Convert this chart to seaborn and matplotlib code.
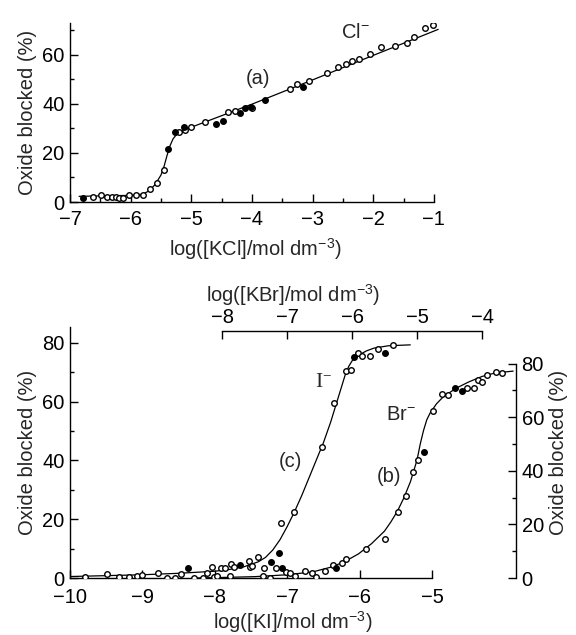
import matplotlib
matplotlib.use("Agg")
import matplotlib.pyplot as plt
import seaborn as sns

# (a) Cl- : log[KCl] vs oxide blocked (%)
cl_open_x = [-6.62, -6.49, -6.39, -6.30, -6.24, -6.19, -6.12, -6.02, -5.91, -5.79, -5.68, -5.56,
             -5.45, -5.20, -5.10, -5.00, -4.77, -4.39, -4.28, -4.00, -3.38, -3.26, -3.06, -2.76,
             -2.58, -2.45, -2.35, -2.24, -2.05, -1.87, -1.64, -1.44, -1.33, -1.15, -1.02]
cl_open_y = [2.2, 2.9, 2.2, 2.2, 1.9, 1.5, 1.8, 2.9, 2.9, 2.9, 5.2, 7.6,
             13.1, 28.4, 29.5, 30.5, 32.5, 36.9, 37.3, 38.3, 46.0, 48.0, 49.5, 52.8,
             55.0, 56.3, 57.3, 58.4, 60.3, 63.4, 63.8, 65.0, 67.2, 70.9, 72.2]
cl_fill_x = [-6.79, -5.38, -5.27, -5.12, -4.60, -4.48, -4.19, -4.12, -4.02, -3.79, -3.16]
cl_fill_y = [1.5, 21.6, 28.4, 30.7, 31.8, 33.0, 36.2, 38.5, 38.9, 41.6, 46.8]
cl_fit_x = [-6.85, -6.5, -6.0, -5.8, -5.7, -5.6, -5.5, -5.45, -5.4, -5.35, -5.3, -5.25,
            -5.2, -5.1, -5.0, -4.0, -3.0, -2.0, -1.0, -0.93]
cl_fit_y = [2.3, 2.5, 2.7, 3.2, 4.5, 7.0, 11.0, 14.5, 19.0, 23.0, 25.8, 27.3,
            28.3, 29.6, 30.5, 39.9, 49.8, 59.8, 69.7, 70.4]

# (c) I- : log[KI]
i_open_x = [-9.79, -9.49, -9.32, -9.19, -9.07, -9.00, -8.78, -8.66, -8.55, -8.47, -8.11, -8.04,
            -7.91, -7.86, -7.78, -7.74, -7.53, -7.51, -7.48, -7.40, -7.32, -7.15, -7.08, -6.90,
            -6.52, -6.35, -6.19, -6.12, -6.02, -5.97, -5.86, -5.74, -5.54]
i_open_y = [0.3, 1.3, 0.4, 0.2, 0.7, 1.0, 1.6, 0.1, 0.1, 1.4, 1.6, 3.8,
            3.3, 3.3, 4.8, 3.9, 5.9, 3.8, 4.0, 7.0, 3.3, 3.3, 18.6, 22.6,
            44.5, 59.6, 70.5, 70.7, 76.4, 75.6, 75.6, 77.9, 79.3]
i_fill_x = [-8.37, -7.65, -7.23, -7.12, -6.08, -5.65]
i_fill_y = [3.3, 4.4, 5.5, 8.4, 75.3, 76.4]
i_fit_x = [-10.0, -9.5, -9.0, -8.5, -8.0, -7.8, -7.6, -7.4, -7.3, -7.2, -7.1, -7.0, -6.9,
           -6.8, -6.7, -6.6, -6.5, -6.4, -6.3, -6.2, -6.15, -6.1, -6.0, -5.9, -5.8, -5.6, -5.3]
i_fit_y = [0.5, 0.8, 1.1, 1.6, 2.3, 2.9, 3.8, 5.5, 7.0, 9.5, 13.0, 17.5, 22.5,
           28.0, 34.0, 40.0, 46.0, 53.0, 61.0, 69.0, 72.0, 74.0, 76.0, 77.3, 78.2, 79.0, 79.3]

# (b) Br- : log[KBr] (top / right axes)
br_open_x = [-8.43, -8.29, -8.13, -8.07, -7.87, -7.37, -7.26, -7.02, -6.95, -6.88, -6.72, -6.62,
             -6.55, -6.42, -6.30, -6.16, -6.10, -5.79, -5.50, -5.30, -5.17, -5.06, -4.98, -4.76,
             -4.62, -4.52, -4.23, -4.12, -4.06, -4.00, -3.93, -3.79, -3.70]
br_open_y = [0.1, 0.0, 0.3, 0.7, 0.7, 0.7, 0.1, 2.4, 2.0, 0.75, 2.7, 1.7,
             0.5, 2.7, 4.9, 5.5, 7.0, 10.7, 14.6, 24.7, 30.6, 39.7, 44.0, 62.4,
             68.7, 68.3, 71.0, 71.0, 73.9, 73.3, 75.7, 77.0, 76.4]
br_fill_x = [-7.07, -6.24, -4.89, -4.42, -4.31]
br_fill_y = [3.6, 3.6, 47.1, 70.8, 69.8]
br_fit_x = [-8.4, -8.0, -7.5, -7.0, -6.6, -6.3, -6.1, -5.9, -5.7, -5.5, -5.4, -5.3, -5.2,
            -5.1, -5.0, -4.95, -4.9, -4.85, -4.8, -4.7, -4.6, -4.4, -4.2, -4.0, -3.8, -3.52]
br_fit_y = [0.0, 0.2, 0.5, 1.2, 2.3, 4.2, 6.3, 9.0, 12.8, 17.5, 21.0, 25.0, 30.0,
            36.0, 44.0, 50.0, 55.0, 59.0, 61.5, 65.0, 67.5, 70.8, 73.2, 75.2, 76.5, 77.2]

sns.set_theme(style="ticks")
plt.rcParams["font.family"] = ["Liberation Sans", "DejaVu Sans"]
plt.rcParams["mathtext.fontset"] = "custom"
plt.rcParams["mathtext.rm"] = "Liberation Sans"
plt.rcParams["mathtext.default"] = "regular"

W, H = 576, 635
fig = plt.figure(figsize=(W / 100, H / 100), dpi=100)
fig.patch.set_facecolor("white")

LW = 0.9
TICK_FS = 14.5
LAB_FS = 14.5


def draw(ax, fx, fy, ox, oy, px, py):
    sns.lineplot(x=fx, y=fy, ax=ax, color="black", lw=LW, sort=False, estimator=None, zorder=2)
    sns.scatterplot(x=ox, y=oy, ax=ax, s=16, facecolor="white", edgecolor="black",
                    linewidth=1.0, zorder=3)
    sns.scatterplot(x=px, y=py, ax=ax, s=16, color="black", edgecolor="black",
                    linewidth=1.0, zorder=3)


def style(ax):
    ax.set_facecolor("none")
    for s in ax.spines.values():
        s.set_linewidth(1.0)
        s.set_color("black")
    ax.tick_params(which="both", direction="in", colors="black", labelsize=TICK_FS, width=1.0)
    ax.tick_params(which="major", length=5.5, pad=4)
    ax.tick_params(which="minor", length=3)


# ---- top panel: Cl-
ax1 = fig.add_axes([70 / W, 1 - 202 / H, 370 / W, 179 / H])
draw(ax1, cl_fit_x, cl_fit_y, cl_open_x, cl_open_y, cl_fill_x, cl_fill_y)
style(ax1)
ax1.set_xlim(-7, -0.9)
ax1.set_ylim(0, 73)
ax1.spines["top"].set_visible(False)
ax1.spines["right"].set_visible(False)
ax1.spines["bottom"].set_bounds(-7, -1)
ax1.set_xticks(range(-7, 0))
ax1.set_xticks([-6.5, -5.5, -4.5, -3.5, -2.5, -1.5], minor=True)
ax1.set_yticks([0, 20, 40, 60])
ax1.set_yticks([10, 30, 50, 70], minor=True)
ax1.tick_params(axis="x", pad=6)
ax1.set_xlabel("log([KCl]/mol dm$^{-3}$)", fontsize=LAB_FS, labelpad=5)
ax1.set_ylabel("Oxide blocked (%)", fontsize=LAB_FS, labelpad=4)
ax1.text(-3.9, 50.5, "(a)", fontsize=LAB_FS, ha="center", va="center")
ax1.text(-2.3, 69, "Cl$^{-}$", fontsize=LAB_FS, ha="center", va="center")

# ---- bottom panel: I- (bottom/left axes)
pos = [70 / W, 1 - 578 / H, 446 / W, 251 / H]
ax2 = fig.add_axes(pos)
draw(ax2, i_fit_x, i_fit_y, i_open_x, i_open_y, i_fill_x, i_fill_y)
style(ax2)
ax2.set_xlim(-10, -10 + 446 / 72.4)
ax2.set_ylim(0, 251 / 2.94)
ax2.spines["top"].set_visible(False)
ax2.spines["right"].set_visible(False)
ax2.spines["bottom"].set_bounds(-10, -5)
ax2.set_xticks(range(-10, -4))
ax2.set_yticks([0, 20, 40, 60, 80])
ax2.set_yticks([10, 30, 50, 70], minor=True)
ax2.tick_params(axis="x", pad=7)
ax2.set_xlabel("log([KI]/mol dm$^{-3}$)", fontsize=LAB_FS, labelpad=2)
ax2.set_ylabel("Oxide blocked (%)", fontsize=LAB_FS, labelpad=4)
ax2.text(-6.96, 39.6, "(c)", fontsize=LAB_FS, ha="center", va="center")
ax2.text(-6.5, 66.5, "I$^{-}$", fontsize=LAB_FS + 1, ha="center", va="center",
         family=["Liberation Serif", "DejaVu Serif"])

# ---- Br- (top/right axes)
ax3 = fig.add_axes(pos)
draw(ax3, br_fit_x, br_fit_y, br_open_x, br_open_y, br_fill_x, br_fill_y)
style(ax3)
ax3.set_xlim(-8 - 152 / 65, -4 + 34 / 65)
ax3.set_ylim(0, 251 / 2.68)
ax3.spines["left"].set_visible(False)
ax3.spines["bottom"].set_visible(False)
ax3.spines["top"].set_bounds(-8, -4)
ax3.spines["top"].set_position(("data", 247 / 2.68))
ax3.spines["right"].set_bounds(0, 80)
ax3.xaxis.tick_top()
ax3.xaxis.set_label_position("top")
ax3.yaxis.tick_right()
ax3.yaxis.set_label_position("right")
ax3.set_xticks(range(-8, -3))
ax3.set_yticks([0, 20, 40, 60, 80])
ax3.set_yticks([10, 30, 50, 70], minor=True)
ax3.tick_params(axis="x", pad=3)
ax3.set_xlabel("log([KBr]/mol dm$^{-3}$)", fontsize=LAB_FS, labelpad=4)
ax3.set_ylabel("Oxide blocked (%)", fontsize=LAB_FS, labelpad=4)
ax3.text(-5.43, 37.8, "(b)", fontsize=LAB_FS, ha="center", va="center")
ax3.text(-5.24, 61, "Br$^{-}$", fontsize=LAB_FS, ha="center", va="center")

fig.savefig("out.png", dpi=100, facecolor="white")
